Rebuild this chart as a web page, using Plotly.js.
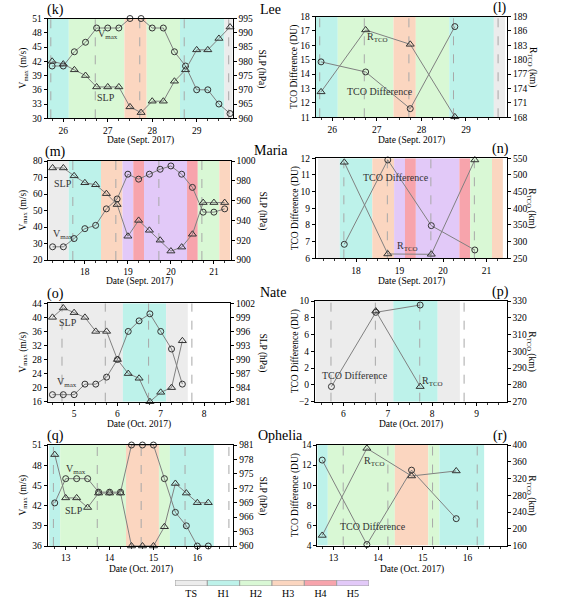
<!DOCTYPE html>
<html><head><meta charset="utf-8">
<script src="https://cdn.plot.ly/plotly-3.0.1.min.js"></script>
<style>html,body{margin:0;padding:0;background:#fff}#chart{width:562px;height:606px}</style>
</head><body><div id="chart"></div>
<script>
// ---------- category legend ----------
const catNames = ['TS','H1','H2','H3','H4','H5'];
const catColors = ['#ececec','#bdf2ea','#d9f8d5','#fbd6c0','#f7a4ac','#e2c9f8'];

// ---------- Lee (k, l) ----------
const leeTimes = [25.75,26,26.25,26.5,26.75,27,27.25,27.5,27.75,28,28.25,28.5,28.75,29,29.25,29.5,29.75];
const leeVmax  = [41,41,44,46,49,49,49,51,51,49,49,44,41,36,36,33,31];
const leeSLP   = [980,979,977,975,971,971,971,964,962,966,966,973,977,984,984,988,992];
const leeCat   = ['H1','H1','H2','H2','H2','H2','H2','H3','H3','H2','H2','H2','H1','H1','H1','H1','TS'];
const leeTcoTimes = [25.75,26.75,27.75,28.75];
const leeTcoDiff  = [14.85,14.15,11.6,17.3];
const leeRtco     = [173.3,186.2,183.2,168.1];
const leeLinesL = [25.72,26.72,27.72,28.72,29.72];
const leeLinesR = [25.72,26.72,27.72,28.72,29.72];

// ---------- Maria (m, n) ----------
const mariaTimes = [17.25,17.5,17.75,18,18.25,18.5,18.75,19,19.25,19.5,19.75,20,20.25,20.5,20.75,21,21.25];
const mariaVmax  = [28,28,33,39,41,51,57,72,69,72,75,77,72,64,49,49,51];
const mariaSLP   = [993,993,985,978,976,967,956,924,940,930,920,909,913,926,958,958,958];
const mariaCat   = ['TS','TS','H1','H1','H1','H3','H3','H5','H4','H5','H5','H5','H5','H4','H2','H2','H3'];
const mariaTcoTimes = [17.73,18.73,19.73,20.73];
const mariaTcoDiff  = [6.84,11.9,7.96,6.5];
const mariaRtco     = [538,263,262,545];
const mariaLinesL = [17.72,18.72,19.72,20.72];
const mariaLinesR = [17.72,18.72,19.72,20.72];

// ---------- Nate (o, p) ----------
const nateTimes = [4.5,4.75,5,5.25,5.5,5.75,6,6.25,6.5,6.75,7,7.25,7.5];
const nateVmax  = [18,18,18,21,21,23,28,36,39,41,36,31,21];
const nateSLP   = [999,1001,1000,999,996,996,990,987,986,981,983,984,994];
const nateCat   = ['TS','TS','TS','TS','TS','TS','TS','H1','H1','H1','H1','TS','TS'];
const nateTcoTimes = [5.73,6.73,7.73];
const nateTcoDiff  = [-0.2,8.65,9.52];
const nateRtco     = [null,324,279];
const nateLinesL = [4.72,5.72,6.72,7.72];
const nateLinesR = [5.72,6.72,7.72,8.72];

// ---------- Ophelia (q, r) ----------
const ophTimes = [12.75,13,13.25,13.5,13.75,14,14.25,14.5,14.75,15,15.25,15.5,15.75,16,16.25];
const ophVmax  = [42.4,46,46,46,44,44,44,51,51,51,46,41,39,36,36];
const ophSLP   = [979,970,970,968,971,971,971,960,960,960,964,973,971,969,969];
const ophCat   = ['H1','H2','H2','H2','H2','H2','H2','H3','H3','H3','H2','H1','H1','H1','H1'];
const ophTcoTimes = [12.75,13.75,14.75,15.75];
const ophTcoDiff  = [12.5,4.1,11.5,6.67];
const ophRtco     = [184,392,326,338];
const ophLinesL = [12.72,13.72,14.72,15.72,16.72];
const ophLinesR = [13.22,14.22,15.22,16.22];

// ---------- layout helpers ----------
const W = 562, H = 606;
const FONT = 'Liberation Serif, DejaVu Serif, serif';
const px = v => v / W;
const py = v => 1 - v / H;

const VM = 'V<sub>max</sub>', RT = 'R<sub>TCO</sub>';
const panels = [
  {lab:'(k)', box:[47.7,232.7,18.5,118.3], xr:[25.65,29.81], x:leeTimes, a:leeVmax, b:leeSLP,
   ra:[30,51], da:3, rb:[960,995], db:5, bt:leeTimes, bc:leeCat, shift:0, lines:leeLinesL,
   ta:VM+' (m/s)', tb:'SLP (hPa)', xt:'Date (Sept. 2017)', side:'L',
   notes:[[VM,108,35],['SLP',106,98]]},
  {lab:'(l)', box:[315.7,507,16.5,117.3], xr:[25.63,29.92], x:leeTcoTimes, a:leeTcoDiff, b:leeRtco,
   ra:[11,18], da:1, rb:[168,189], db:3, bt:leeTimes, bc:leeCat, shift:0, lines:leeLinesR,
   ta:'TCO Difference (DU)', tb:RT+' (km)', xt:'Date (Sept. 2017)', side:'R',
   notes:[[RT,377.5,37.5],['TCO Difference',379.7,91.7]]},
  {lab:'(m)', box:[48.3,230.7,161,260], xr:[17.15,21.39], x:mariaTimes, a:mariaVmax, b:mariaSLP,
   ra:[20,80], da:10, rb:[900,1000], db:20, bt:mariaTimes, bc:mariaCat, shift:0, lines:mariaLinesL,
   ta:VM+' (m/s)', tb:'SLP (hPa)', xt:'Date (Sept. 2017)', side:'L',
   notes:[['SLP',63.3,183.3],[VM,62.7,234.3]]},
  {lab:'(n)', box:[316,507,158.3,258.3], xr:[17.08,21.47], x:mariaTcoTimes, a:mariaTcoDiff, b:mariaRtco,
   ra:[6,12], da:1, rb:[250,550], db:50, bt:mariaTimes, bc:mariaCat, shift:0, lines:mariaLinesR,
   ta:'TCO Difference (DU)', tb:RT+' (km)', xt:'Date (Sept. 2017)', side:'R',
   notes:[['TCO Difference',396,177.7],[RT,407.5,246]]},
  {lab:'(o)', box:[47.7,230,303.3,401.7], xr:[4.39,8.6], x:nateTimes, a:nateVmax, b:nateSLP,
   ra:[16,44], da:4, rb:[981,1002], db:3, bt:nateTimes, bc:nateCat, shift:0, lines:nateLinesL,
   ta:VM+' (m/s)', tb:'SLP (hPa)', xt:'Date (Oct. 2017)', side:'L',
   notes:[['SLP',68,322.7],[VM,66.7,382.3]]},
  {lab:'(p)', box:[315,506.7,301,401.7], xr:[5.36,9.68], x:nateTcoTimes, a:nateTcoDiff, b:nateRtco,
   ra:[-2,10], da:2, rb:[270,330], db:10, bt:nateTimes, bc:nateCat, shift:1, lines:nateLinesR,
   ta:'TCO Difference (DU)', tb:RT+' (km)', xt:'Date (Oct. 2017)', side:'R',
   notes:[['TCO Difference',355,375.7],[RT,432.5,381.7]]},
  {lab:'(q)', box:[47.7,233.3,445,546], xr:[12.59,16.82], x:ophTimes, a:ophVmax, b:ophSLP,
   ra:[36,51], da:3, rb:[960,981], db:3, bt:ophTimes, bc:ophCat, shift:0, lines:ophLinesL,
   ta:VM+' (m/s)', tb:'SLP (hPa)', xt:'Date (Oct. 2017)', side:'L',
   notes:[[VM,76,470],['SLP',74,510]]},
  {lab:'(r)', box:[317.3,506.7,445,545.5], xr:[12.64,16.88], x:ophTcoTimes, a:ophTcoDiff, b:ophRtco,
   ra:[4,14], da:2, rb:[160,400], db:40, bt:ophTimes, bc:ophCat, shift:0, lines:ophLinesR,
   ta:'TCO Difference (DU)', tb:RT+' (km)', xt:'Date (Oct. 2017)', side:'R',
   notes:[[RT,374,461.7],['TCO Difference',372.7,526]]}
];
const storms = [['Lee',258,9],['Maria',252,150],['Nate',258,292],['Ophelia',256,435]];
const xTitleY = [140.5,140.5,281.5,281.5,424,424,569,569];

const layout = {
  width: W, height: H, margin:{l:0,r:0,t:0,b:0}, showlegend:false,
  paper_bgcolor:'#fff', plot_bgcolor:'rgba(0,0,0,0)',
  font:{family:FONT, size:9.5, color:'#000'},
  shapes:[], annotations:[]
};
const data = [];
const tickF = {family:FONT, size:9.5, color:'#000'};

panels.forEach((p, i) => {
  const n = i + 1, ya = 2*i + 1, yb = 2*i + 2;
  const xk = 'xaxis' + (n === 1 ? '' : n), yka = 'yaxis' + (ya === 1 ? '' : ya), ykb = 'yaxis' + yb;
  const xr = 'x' + (n === 1 ? '' : n), yra = 'y' + (ya === 1 ? '' : ya), yrb = 'y' + yb;
  const [x0, x1, t, b] = p.box;
  layout[xk] = {domain:[px(x0), px(x1)], anchor:yra, range:p.xr, tick0:0, dtick:1,
    ticks:'outside', ticklen:3, tickwidth:1, tickcolor:'#000', showline:true, mirror:true,
    linecolor:'#000', linewidth:1, showgrid:false, zeroline:false, tickfont:tickF, ticklabelstandoff:0,
    minor:{dtick:0.25, tick0:0, ticks:'outside', ticklen:2, tickcolor:'#333', showgrid:false}};
  layout[yka] = {domain:[py(b), py(t)], anchor:xr, range:p.ra, dtick:p.da, tick0:0,
    ticks:'outside', ticklen:3, tickwidth:1, tickcolor:'#000', showline:true, mirror:true,
    linecolor:'#000', linewidth:1, showgrid:false, zeroline:false, tickfont:tickF};
  layout[ykb] = {overlaying:yra, side:'right', anchor:xr, range:p.rb, dtick:p.db, tick0:0,
    ticks:'outside', ticklen:3, tickwidth:1, tickcolor:'#000', showline:true,
    linecolor:'#000', linewidth:1, showgrid:false, zeroline:false, tickfont:tickF};

  // intensity bands (merged runs of same category, each sample spans +/- 6 h)
  let runs = [];
  p.bt.forEach((tm, k) => {
    const s = tm - 0.125 + p.shift, e = tm + 0.125 + p.shift, c = p.bc[k];
    const last = runs[runs.length - 1];
    if (last && last.c === c && Math.abs(last.e - s) < 1e-6) last.e = e; else runs.push({s, e, c});
  });
  runs.forEach(r => {
    const s = Math.max(r.s, p.xr[0]), e = Math.min(r.e, p.xr[1]);
    if (e <= s) return;
    layout.shapes.push({type:'rect', xref:xr, yref:yra, x0:s, x1:e, y0:p.ra[0], y1:p.ra[1],
      fillcolor:catColors[catNames.indexOf(r.c)], line:{width:0}, layer:'below'});
  });
  // overpass dashed lines
  p.lines.forEach(lx => layout.shapes.push({type:'line', xref:xr, yref:yra, x0:lx, x1:lx,
    y0:p.ra[0], y1:p.ra[1], line:{color:'#a8a8a8', width:1, dash:'dash'}, layer:'below'}));

  data.push({type:'scatter', mode:'lines+markers', x:p.x, y:p.a, xaxis:xr, yaxis:yra, cliponaxis:false,
    line:{color:'#808080', width:1}, marker:{symbol:'circle-open', size:6, color:'#333', line:{width:1}}});
  data.push({type:'scatter', mode:'lines+markers', x:p.x, y:p.b, xaxis:xr, yaxis:yrb, cliponaxis:false,
    connectgaps:false, line:{color:'#808080', width:1},
    marker:{symbol:'triangle-up-open', size:7, color:'#333', line:{width:1}}});

  const cy = (t + b) / 2, cx = (x0 + x1) / 2;
  const lx = p.side === 'L' ? 23 : 295, rx = p.side === 'L' ? 262 : 532;
  const ann = (text, x, y, o) => layout.annotations.push(Object.assign({text, x:px(x), y:py(y),
    xref:'paper', yref:'paper', showarrow:false, xanchor:'center', yanchor:'middle',
    font:{family:FONT, size:9.5, color:'#000'}}, o || {}));
  ann(p.ta, lx, cy, {textangle:-90});
  ann(p.tb, rx, cy, {textangle:90});
  ann(p.xt, cx, xTitleY[i]);
  ann(p.lab, p.side === 'L' ? 55 : 500, t - 9, {font:{family:FONT, size:14, color:'#000'}});
  p.notes.forEach(nt => ann(nt[0], nt[1], nt[2], {font:{family:FONT, size:10, color:'#333'}}));
});

storms.forEach(s => layout.annotations.push({text:s[0], x:px(s[1]), y:py(s[2]), xref:'paper', yref:'paper',
  showarrow:false, xanchor:'left', yanchor:'middle', font:{family:FONT, size:14, color:'#000'}}));

// category legend bar
layout.xaxis9 = {domain:[px(175), px(369)], anchor:'y17', type:'category', showline:false, ticks:'',
  showgrid:false, zeroline:false, tickfont:{family:FONT, size:10, color:'#000'}, ticklabelstandoff:0};
layout.yaxis17 = {domain:[py(586), py(580)], anchor:'x9', range:[0,1], visible:false};
data.push({type:'bar', x:catNames, y:catNames.map(() => 1), xaxis:'x9', yaxis:'y17', width:1,
  marker:{color:catColors, line:{color:'#a0a0a0', width:1}}, hoverinfo:'skip'});

Plotly.newPlot('chart', data, layout, {staticPlot:true});
</script></body></html>
